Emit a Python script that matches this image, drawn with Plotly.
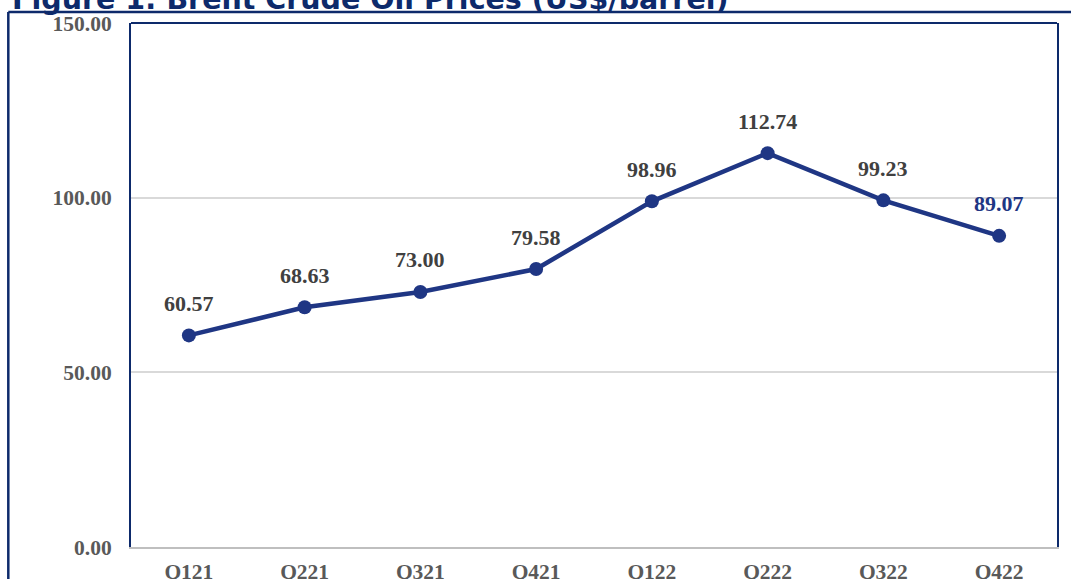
import plotly.graph_objects as go

quarters = ["Q121", "Q221", "Q321", "Q421", "Q122", "Q222", "Q322", "Q422"]
brent_price = [60.57, 68.63, 73.00, 79.58, 98.96, 112.74, 99.23, 89.07]
y_ticks = [0, 50, 100, 150]

NAVY = "#0d2a6b"
LINE = "#1f3684"
SERIF = "Liberation Serif"

fig = go.Figure()
fig.add_trace(go.Scatter(
    x=quarters, y=brent_price,
    mode="lines+markers",
    line=dict(color=LINE, width=4.5),
    marker=dict(color=LINE, size=14),
    hoverinfo="x+y",
    showlegend=False,
))

# data labels, last one in navy
for i, (q, v) in enumerate(zip(quarters, brent_price)):
    fig.add_annotation(
        x=q, y=v, text=f"<b>{v:.2f}</b>", showarrow=False,
        yshift=32,
        font=dict(family=SERIF, size=22, color=LINE if i == len(quarters) - 1 else "#404040"),
    )

# title, cut off by the top edge
fig.add_annotation(
    xref="paper", yref="paper", x=-0.131, y=1, xanchor="left", yanchor="bottom",
    yshift=5, showarrow=False,
    text="<b>Figure 1: Brent Crude Oil Prices (US$/barrel)</b>",
    font=dict(family="DejaVu Sans", size=28.5, color=NAVY),
)

# outer frame + top border of plot area
fig.add_shape(type="line", xref="paper", yref="paper", x0=-0.1325, x1=1.03, y0=1.021, y1=1.021,
              line=dict(color=NAVY, width=2.5))
fig.add_shape(type="line", xref="paper", yref="paper", x0=-0.1325, x1=-0.1325, y0=1.021, y1=-0.1,
              line=dict(color=NAVY, width=2.5))
fig.add_shape(type="line", xref="paper", yref="paper", x0=0, x1=1, y0=1, y1=1,
              line=dict(color=NAVY, width=2))

fig.update_layout(
    width=1071, height=579,
    margin=dict(l=131, r=14, t=23, b=32, autoexpand=False),
    paper_bgcolor="white", plot_bgcolor="white",
    xaxis=dict(
        type="category", range=[-0.5, 7.5], automargin=False,
        showgrid=False, showline=True, linecolor="#bfbfbf", linewidth=2,
        tickfont=dict(family=SERIF, size=21.5, color="#595959"),
        ticklabelstandoff=4,
    ),
    yaxis=dict(
        range=[0, 150], tickvals=y_ticks, ticktext=[f"<b>{t:.2f}</b>" for t in y_ticks],
        automargin=False,
        showgrid=True, gridcolor="#d9d9d9", gridwidth=1.5, zeroline=False,
        showline=True, mirror=True, linecolor=NAVY, linewidth=2,
        tickfont=dict(family=SERIF, size=21.5, color="#595959"),
        ticklabelstandoff=13,
    ),
)
fig.update_xaxes(ticktext=[f"<b>{q}</b>" for q in quarters], tickvals=quarters)

fig.write_html("out.html", config={"displayModeBar": False},
               post_script="document.body.style.margin='0';")
